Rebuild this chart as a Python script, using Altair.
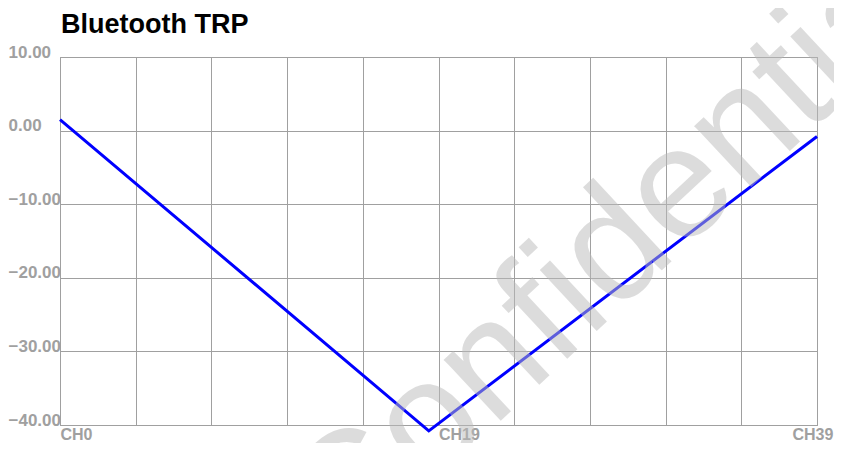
import altair as alt
import pandas as pd

# ---- data ----
channels = [0, 19, 39]
trp_dbm = [1.5, -40.8, -0.8]
x_label_names = ["CH0", "CH19", "CH39"]
x_grid_values = [0, 3.9, 7.8, 11.7, 15.6, 19.5, 23.4, 27.3, 31.2, 35.1, 39]
y_tick_values = [-40, -30, -20, -10, 0, 10]
chart_title = "Bluetooth TRP"
watermark_text = "Confidential"

df = pd.DataFrame({"channel": channels, "trp": trp_dbm})

GRAY = "#a0a0a0"
FONT = "Liberation Sans"

label_expr = (
    f"datum.value < 0.1 ? '{x_label_names[0]}' : "
    f"(abs(datum.value - 19.5) < 0.1 ? '{x_label_names[1]}' : "
    f"(datum.value > 38.9 ? '{x_label_names[2]}' : ''))"
)

line = alt.Chart(df).mark_line(color="#0000ff", strokeWidth=3, clip=False).encode(
    x=alt.X(
        "channel:Q",
        scale=alt.Scale(domain=[0, 39], nice=False, zero=False),
        axis=alt.Axis(
            title=None,
            values=x_grid_values,
            labelExpr=label_expr,
            labelAlign="left",
            labelBaseline="alphabetic",
            labelOffset={"condition": {"test": "datum.value > 38.9", "value": -25}, "value": 0},
            labelFont=FONT,
            labelFontWeight="bold",
            labelFontSize=16,
            labelColor=GRAY,
            labelPadding=14,
            labelBound=False,
            labelFlush=False,
            labelOverlap=False,
            ticks=False,
            domainColor=GRAY,
            gridColor=GRAY,
            gridWidth=1,
        ),
    ),
    y=alt.Y(
        "trp:Q",
        scale=alt.Scale(domain=[-40, 10], nice=False, zero=False),
        axis=alt.Axis(
            title=None,
            values=y_tick_values,
            format=".2f",
            labelFont=FONT,
            labelFontWeight="bold",
            labelFontSize=17,
            labelColor=GRAY,
            labelAlign="left",
            labelBaseline="alphabetic",
            labelPadding=52,
            labelBound=False,
            labelFlush=False,
            labelOverlap=False,
            ticks=False,
            domainColor=GRAY,
            gridColor=GRAY,
            gridWidth=1,
        ),
    ),
)

title = alt.Chart(pd.DataFrame({"t": [chart_title]})).mark_text(
    font=FONT,
    fontSize=27,
    fontWeight="bold",
    color="#000000",
    align="left",
    baseline="alphabetic",
    clip=False,
).encode(text="t:N", x=alt.value(1), y=alt.value(-24))

watermark = alt.Chart(pd.DataFrame({"w": [watermark_text]})).mark_text(
    font=FONT,
    fontSize=158,
    angle=317,
    align="center",
    baseline="middle",
    color="#bbbbbb",
    opacity=0.5,
    clip=False,
).encode(text="w:N", x=alt.value(558), y=alt.value(190))

chart = (
    alt.layer(line, title, watermark)
    .properties(
        width=757,
        height=368,
        padding={"left": 52, "top": 49, "right": 17, "bottom": 18},
        autosize=alt.AutoSizeParams(type="none"),
    )
    .configure_view(stroke=GRAY, strokeWidth=1)
)

chart.save("out.html", embed_options={"renderer": "svg", "actions": False})
